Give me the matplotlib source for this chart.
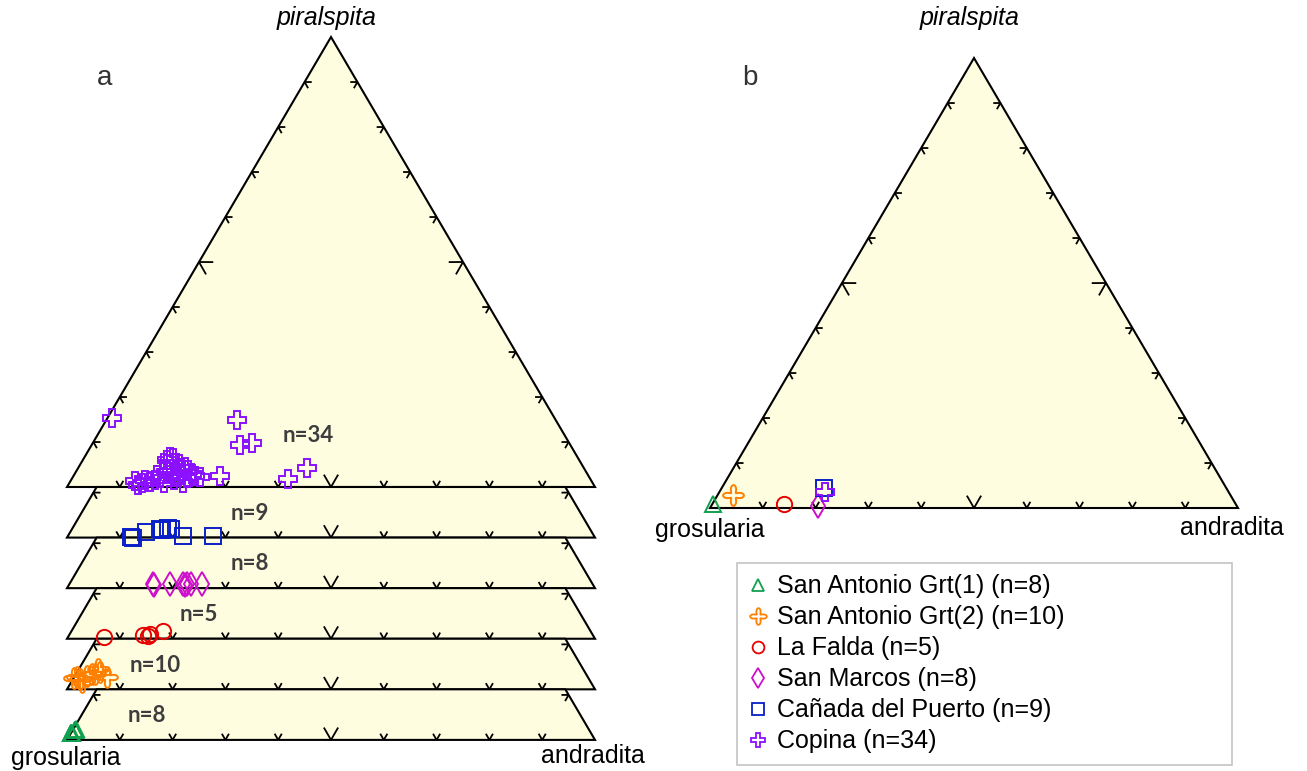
import numpy as np
import matplotlib
matplotlib.use("Agg")
import matplotlib.pyplot as plt
from matplotlib.path import Path
from matplotlib.lines import Line2D

# ---- garnet compositions, mol% andradite (And) and pyralspite (Prs); rest is grossular ----
copina_and = [12.2, 13.7, 14.0, 15.1, 15.9, 16.7, 17.8, 15.9, 16.1, 16.9, 17.8, 16.3, 17.5,
              19.3, 20.1, 21.1, 22.1, 23.0, 24.1, 21.6, 20.0, 19.4, 15.7, 17.1, 20.4, 21.7,
              13.3, 0.8, 24.8, 28.1, 30.1, 43.3, 40.9, 27.8]
copina_prs = [1.3, 1.0, 1.6, 1.2, 1.6, 1.9, 1.0, 6.0, 6.7, 6.4, 5.3, 3.9, 3.4,
              4.2, 4.5, 3.8, 3.0, 2.4, 2.2, 0.8, 2.2, 1.6, 2.7, 4.9, 2.7, 1.9,
              0.4, 15.3, 14.9, 9.3, 9.7, 4.2, 1.8, 2.4]

canada_and = [12.0, 12.5, 14.4, 16.7, 17.2, 18.7, 18.1, 21.7, 27.5]
canada_prs = [0.2, 0.0, 1.3, 1.8, 1.6, 1.9, 2.1, 0.4, 0.4]

marcos_and = [15.9, 16.2, 19.1, 21.5, 21.9, 22.3, 23.0, 25.1]
marcos_prs = [0.9, 0.7, 0.9, 0.9, 0.8, 0.9, 0.9, 0.9]

falda_and = [6.9, 14.0, 14.9, 15.3, 17.3]
falda_prs = [0.3, 0.9, 0.7, 1.0, 1.8]

santonio2_and = [0.0, 1.3, 2.4, 3.0, 3.6, 4.3, 6.3, 2.0, 3.5, 0.5]
santonio2_prs = [2.5, 2.4, 2.9, 3.3, 4.6, 3.8, 2.7, 1.6, 3.5, 2.7]

santonio1_and = [0.0, 0.0, 0.0, 0.1, 0.4, 0.4, 0.4, 0.5]
santonio1_prs = [1.5, 1.5, 1.5, 1.6, 2.3, 2.3, 2.2, 2.4]

# mean composition of each locality
mean_and = [0.1, 2.8, 13.6, 20.3, 19.3, 20.0]
mean_prs = [1.0, 3.0, 0.8, 0.4, 4.4, 3.6]

group_names = ["San Antonio Grt(1) (n=8)", "San Antonio Grt(2) (n=10)", "La Falda (n=5)",
               "San Marcos (n=8)", "Cañada del Puerto (n=9)", "Copina (n=34)"]
count_labels = ["n=8", "n=10", "n=5", "n=8", "n=9", "n=34"]
vertex_labels = ["grosularia", "andradita", "piralspita"]

# ---- styling ----
FILL = "#fffddf"
H = 450.0 / 528.0          # triangle height (base = 1)
SLAB = 0.1124              # slab thickness as fraction of triangle height
LW = 1.5

theta = np.linspace(0, 2 * np.pi, 121)
rad = 0.66 + 0.34 * np.cos(4 * theta)
lobed = Path(np.column_stack([rad * np.cos(theta), rad * np.sin(theta)]), closed=True)

styles = [
    dict(marker="^", color="#10a050", ms=11, lms=9),
    dict(marker=lobed, color="#ff8000", ms=15, lms=12),
    dict(marker="o", color="#e60000", ms=11, lms=8.5),
    dict(marker="d", color="#cc10cc", ms=12, lms=10),
    dict(marker="s", color="#0a1ec8", ms=11, lms=8.5),
    dict(marker="P", color="#8a10ff", ms=13, lms=10.5),
]

plt.rcParams["font.family"] = ["Liberation Sans", "DejaVu Sans"]


def to_xy(a, p, base=0.0):
    a = np.asarray(a, float) / 100.0
    p = np.asarray(p, float) / 100.0
    return a + p / 2.0, p * H + base


def tick(ax, x, y, normal, big, zo):
    ln = 0.027 if big else 0.0135
    ang = np.arctan2(normal[1], normal[0])
    for d in (np.pi / 6, -np.pi / 6):
        ax.plot([x, x + ln * np.cos(ang + d)], [y, y + ln * np.sin(ang + d)],
                color="black", lw=1.3, solid_capstyle="butt", zorder=zo)


L = np.hypot(0.5, H)
n_base = (0.0, 1.0)
n_left = (H / L, -0.5 / L)
n_right = (-H / L, -0.5 / L)


def draw_shape(ax, base, frac, zo):
    top = frac
    pts = [(0, base), (1, base), (1 - 0.5 * top, base + H * top), (0.5 * top, base + H * top)]
    if frac >= 1:
        pts = [(0, base), (1, base), (0.5, base + H)]
    poly = plt.Polygon(pts, closed=True, facecolor=FILL, edgecolor="black", lw=LW,
                       joinstyle="miter", zorder=zo)
    ax.add_patch(poly)
    steps = [i / 10 for i in range(1, 10)]
    for t in steps:
        tick(ax, t, base, n_base, abs(t - 0.5) < 1e-9, zo + 0.5)
    for t in steps:
        if t < frac:
            tick(ax, 0.5 * t, base + H * t, n_left, abs(t - 0.5) < 1e-9, zo + 0.5)
            tick(ax, 1 - 0.5 * t, base + H * t, n_right, abs(t - 0.5) < 1e-9, zo + 0.5)


def mk(ax, x, y, st, label=None):
    ax.plot(x, y, linestyle="none", marker=st["marker"], ms=st["ms"], mfc="none",
            mec=st["color"], mew=1.4, zorder=20, label=label)


fig = plt.figure(figsize=(13.07, 7.71), dpi=100)
S = 528.0

# ---------------- panel a ----------------
axa = fig.add_axes([0, 0, 650 / 1307, 1])
axa.set_xlim(-67 / S, 583 / S)
axa.set_ylim((487 - 771) / S, 487 / S)
axa.axis("off")

stack = [
    (copina_and, copina_prs, 5),
    (canada_and, canada_prs, 4),
    (marcos_and, marcos_prs, 3),
    (falda_and, falda_prs, 2),
    (santonio2_and, santonio2_prs, 1),
    (santonio1_and, santonio1_prs, 0),
]
label_pos = [(0.456, 0.097), (0.347, 0.046), (0.347, 0.046), (0.250, 0.046),
             (0.167, 0.046), (0.152, 0.046)]
D = SLAB * H
for k, (ga, gp, si) in enumerate(stack):
    base = -k * D
    draw_shape(axa, base, 1.0 if k == 0 else SLAB, 1 + k)
    x, y = to_xy(ga, gp, base)
    mk(axa, x, y, styles[si])
    lx, ly = label_pos[k]
    axa.text(lx, base + ly, count_labels[si], ha="center", va="center", fontsize=16,
             fontweight="bold", family=["Lato", "DejaVu Sans"], color="#3d3d3d", zorder=22)

axa.text(0.492, 0.888, vertex_labels[2], ha="center", va="center", fontsize=18, style="italic")
axa.text(-0.002, -0.513, vertex_labels[0], ha="center", va="center", fontsize=18)
axa.text(0.996, -0.509, vertex_labels[1], ha="center", va="center", fontsize=18)
axa.text(0.072, 0.775, "a", ha="center", va="center", fontsize=20, color="#333333")

# ---------------- panel b ----------------
axb = fig.add_axes([650 / 1307, 0, 657 / 1307, 1])
axb.set_xlim((650 - 710) / S, (1307 - 710) / S)
axb.set_ylim((508 - 771) / S, 508 / S)
axb.axis("off")
draw_shape(axb, 0.0, 1.0, 1)
handles = []
for i, st in enumerate(styles):
    x, y = to_xy([mean_and[i]], [mean_prs[i]])
    mk(axb, x, y, st)
    handles.append(Line2D([], [], linestyle="none", marker=st["marker"],
                          ms=st["lms"], mfc="none", mec=st["color"], mew=1.3))

axb.text(0.492, 0.928, vertex_labels[2], ha="center", va="center", fontsize=18, style="italic")
axb.text(0.0, -0.042, vertex_labels[0], ha="center", va="center", fontsize=18)
axb.text(0.989, -0.038, vertex_labels[1], ha="center", va="center", fontsize=18)
axb.text(0.076, 0.814, "b", ha="center", va="center", fontsize=20, color="#333333")

leg = fig.legend(handles, group_names, loc="upper left",
                 bbox_to_anchor=(737 / 1307, 0, (1232 - 737) / 1307, 1 - 563 / 771),
                 mode="expand", fontsize=18, frameon=True, fancybox=False,
                 edgecolor="#b4b4b4", borderaxespad=0, borderpad=0.45,
                 labelspacing=0.28, handlelength=0.8, handletextpad=0.35)
leg.get_frame().set_linewidth(1.2)

fig.savefig("out.png", dpi=100, facecolor="white")
